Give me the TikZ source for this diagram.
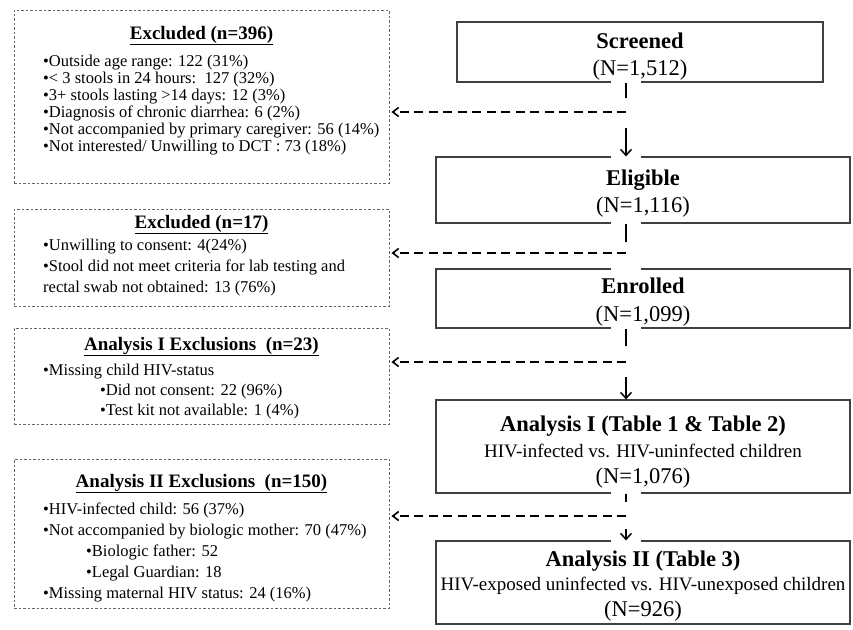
\documentclass[tikz,border=0pt]{standalone}
\usepackage{fontspec}
\setmainfont{Liberation Serif}
\usetikzlibrary{arrows.meta}
\begin{document}
\begin{tikzpicture}[x=1pt,y=-1pt,
 exbox/.style={draw=black!60, line width=0.8pt, dash pattern=on 2.5pt off 2pt, inner sep=0, minimum width=375pt},
 mainbox/.style={draw=black!75, line width=1.2pt, inner sep=0},
 extitle/.style={font=\fontsize{19}{20}\selectfont\bfseries, anchor=base, inner sep=0},
 item/.style={font=\fontsize{16.5}{18}\selectfont, anchor=base west, inner sep=0},
 mtitle/.style={font=\fontsize{22.5}{24}\selectfont\bfseries, anchor=base, inner sep=0},
 mnum/.style={font=\fontsize{22.5}{24}\selectfont, anchor=base, inner sep=0},
 msub/.style={font=\fontsize{19}{20}\selectfont, anchor=base, inner sep=0},
 gapmask/.style={preaction={draw=white, line width=30pt, -, shorten <=-1.5pt, shorten >=-1.5pt}},
 gaponly/.style={draw=white, line width=30pt, shorten >=-1.5pt},
 flowline/.style={line width=1.8pt},
 flowarrow/.style={line width=1.5pt, -{Straight Barb[length=6pt,width=11pt,line width=1.5pt]}},
 dasharrow/.style={line width=2pt, dash pattern=on 9pt off 5.5pt, shorten >=2pt, -{Straight Barb[length=6pt,width=9pt,line width=1.6pt]}}
]
\useasboundingbox (0,0) rectangle (853,629);

% ---------- left exclusion boxes ----------
\node[exbox, minimum height=173pt] (ex1) at (201.5,96.5) {};
\node[extitle] (ex1t) at (201.5,39) {\underline{Excluded (n=396)}};
\foreach \t [count=\i] in {{•Outside age range: 122 (31\%)},
  {•< 3 stools in 24 hours:\ \ 127 (32\%)},
  {•3+ stools lasting >14 days: 12 (3\%)},
  {•Diagnosis of chronic diarrhea: 6 (2\%)},
  {•Not accompanied by primary caregiver: 56 (14\%)},
  {•Not interested/ Unwilling to DCT : 73 (18\%)}}
  \node[item] (ex1l\i) at (43,{66.5+17*(\i-1)}) {\t};

\node[exbox, minimum height=97pt] (ex2) at (201.5,257.5) {};
\node[extitle] (ex2t) at (201.5,228) {\underline{Excluded (n=17)}};
\node[item] (ex2l1) at (43,250) {•Unwilling to consent: 4(24\%)};
\node[item] (ex2l2) at (43,271) {•Stool did not meet criteria for lab testing and};
\node[item] (ex2l3) at (43,292) {rectal swab not obtained: 13 (76\%)};

\node[exbox, minimum height=96pt] (ex3) at (201.5,376) {};
\node[extitle] (ex3t) at (201.5,350) {\underline{Analysis I Exclusions\ \ (n=23)}};
\node[item] (ex3l1) at (43,375) {•Missing child HIV-status};
\node[item] (ex3l2) at (100,395) {•Did not consent: 22 (96\%)};
\node[item] (ex3l3) at (100,415) {•Test kit not available: 1 (4\%)};

\node[exbox, minimum height=149pt] (ex4) at (201.5,533.5) {};
\node[extitle] (ex4t) at (201.5,487) {\underline{Analysis II Exclusions\ \ (n=150)}};
\node[item] (ex4l1) at (43,514) {•HIV-infected child: 56 (37\%)};
\node[item] (ex4l2) at (43,535) {•Not accompanied by biologic mother: 70 (47\%)};
\node[item] (ex4l3) at (86,556) {•Biologic father: 52};
\node[item] (ex4l4) at (86,577) {•Legal Guardian: 18};
\node[item] (ex4l5) at (43,598) {•Missing maternal HIV status: 24 (16\%)};

% ---------- main flow boxes ----------
\node[mainbox, minimum width=366pt, minimum height=60pt] (scr) at (640,52) {};
\node[mtitle] (scrt) at (640,48) {Screened};
\node[mnum] (scrn) at (640,75) {(N=1,512)};

\node[mainbox, minimum width=414pt, minimum height=66pt] (eli) at (643,190) {};
\node[mtitle] (elit) at (643,185) {Eligible};
\node[mnum] (elin) at (643,212) {(N=1,116)};

\node[mainbox, minimum width=414pt, minimum height=59pt] (enr) at (643,298.5) {};
\node[mtitle] (enrt) at (643,293) {Enrolled};
\node[mnum] (enrn) at (643,321) {(N=1,099)};

\node[mainbox, minimum width=414pt, minimum height=93pt] (an1) at (643,446.5) {};
\node[mtitle] (an1t) at (643,431) {Analysis I (Table 1 \& Table 2)};
\node[msub] (an1s) at (643,457) {HIV-infected vs. HIV-uninfected children};
\node[mnum] (an1n) at (643,483) {(N=1,076)};

\node[mainbox, minimum width=414pt, minimum height=83pt] (an2) at (643,582.5) {};
\node[mtitle] (an2t) at (643,566) {Analysis II (Table 3)};
\node[msub] (an2s) at (643,590) {HIV-exposed uninfected vs. HIV-unexposed children};
\node[mnum] (an2n) at (643,616) {(N=926)};

% ---------- connectors ----------
\coordinate (j1a) at (626,98);  \coordinate (j1) at (626,112); \coordinate (j1b) at (626,128);
\coordinate (j2a) at (626,242); \coordinate (j2) at (626,253); \coordinate (j2b) at (626,259);
\coordinate (j3a) at (626,346); \coordinate (j3) at (626,362); \coordinate (j3b) at (626,377);
\coordinate (j4a) at (626,502); \coordinate (j4) at (626,516); \coordinate (j4b) at (626,529);

\draw[flowline, gapmask] (scr.south -| j1) -- (j1a);
\draw[flowarrow, gapmask] (j1b) -- (eli.north -| j1);
\draw[dasharrow] (j1) -- (ex1.east |- j1);

\draw[flowline, gapmask] (eli.south -| j2) -- (j2a);
\draw[gaponly] (j2b) -- (enr.north -| j2);
\draw[dasharrow] (j2) -- (ex2.east |- j2);

\draw[flowline, gapmask] (enr.south -| j3) -- (j3a);
\draw[flowarrow] (j3b) -- (an1.north -| j3);
\draw[dasharrow] (j3) -- (ex3.east |- j3);

\draw[flowline, gapmask] (an1.south -| j4) -- (j4a);
\draw[flowarrow, gapmask] (j4b) -- (an2.north -| j4);
\draw[dasharrow] (j4) -- (ex4.east |- j4);
\end{tikzpicture}
\end{document}
